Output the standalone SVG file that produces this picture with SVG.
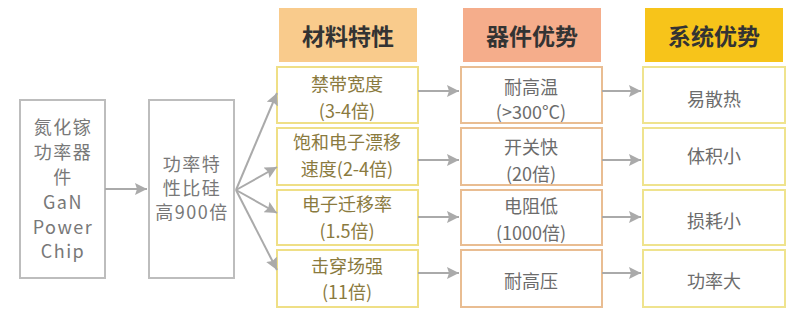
<svg xmlns="http://www.w3.org/2000/svg" width="800" height="319" viewBox="0 0 800 319">
<defs>
<marker id="ah" markerUnits="userSpaceOnUse" markerWidth="14" markerHeight="14" refX="12" refY="6" orient="auto">
<path d="M0,0 L12,6 L0,12 L2,6 Z" fill="#aaaaaa"/>
</marker>
<style>
text{font-family:"Noto Sans CJK SC","Noto Sans",sans-serif;text-anchor:middle;font-size:18px}
.g{fill:none;stroke:#bdbdbd;stroke-width:2}
.y{fill:#fff;stroke:#efdf86;stroke-width:2}
.o{fill:#fff;stroke:#e9bd92;stroke-width:2}
.s{fill:#fff;stroke:#efe38e;stroke-width:2}
.tg{fill:#787878;letter-spacing:1.5px}
.ty{fill:#8a7a3e}
.to{fill:#6c6c6c}
.h{fill:#333;font-size:23px;font-weight:bold}
.c line{stroke:#aaaaaa;stroke-width:2;marker-end:url(#ah)}
</style>
</defs>
<rect width="800" height="319" fill="#fff"/>

<g id="gan">
<rect class="g" x="20" y="100" width="85" height="178"/>
<text class="tg" x="63" y="134">氮化镓</text>
<text class="tg" x="63" y="159">功率器</text>
<text class="tg" x="63" y="184">件</text>
<text class="tg" x="63" y="209">GaN</text>
<text class="tg" x="63" y="234">Power</text>
<text class="tg" x="63" y="258">Chip</text>
</g>
<g id="power">
<rect class="g" x="149" y="100" width="85" height="178"/>
<text class="tg" x="192" y="171">功率特</text>
<text class="tg" x="192" y="195">性比硅</text>
<text class="tg" x="192" y="219">高900倍</text>
</g>

<g id="h1"><rect x="279" y="8" width="138" height="54" fill="#f9cb8c"/><text class="h" x="348" y="45">材料特性</text></g>
<g id="h2"><rect x="463" y="8" width="138" height="54" fill="#f5ad8b"/><text class="h" x="532" y="45">器件优势</text></g>
<g id="h3"><rect x="645" y="8" width="138" height="54" fill="#f7c41a"/><text class="h" x="714" y="45">系统优势</text></g>

<g id="m1"><rect class="y" x="277" y="67" width="141" height="56"/><text class="ty" x="347" y="91">禁带宽度</text><text class="ty" x="347" y="118">(3-4倍)</text></g>
<g id="m2"><rect class="y" x="277" y="128" width="141" height="57"/><text class="ty" x="347" y="149">饱和电子漂移</text><text class="ty" x="347" y="176">速度(2-4倍)</text></g>
<g id="m3"><rect class="y" x="277" y="190" width="141" height="55"/><text class="ty" x="347" y="211">电子迁移率</text><text class="ty" x="347" y="238">(1.5倍)</text></g>
<g id="m4"><rect class="y" x="277" y="250" width="141" height="57"/><text class="ty" x="347" y="273">击穿场强</text><text class="ty" x="347" y="299">(11倍)</text></g>

<g id="d1"><rect class="o" x="461" y="67" width="141" height="56"/><text class="to" x="531" y="94">耐高温</text><text class="to" x="531" y="119">(&gt;300°C)</text></g>
<g id="d2"><rect class="o" x="461" y="128" width="141" height="57"/><text class="to" x="531" y="154">开关快</text><text class="to" x="531" y="181">(20倍)</text></g>
<g id="d3"><rect class="o" x="461" y="190" width="141" height="55"/><text class="to" x="531" y="213">电阻低</text><text class="to" x="531" y="240">(1000倍)</text></g>
<g id="d4"><rect class="o" x="461" y="250" width="141" height="57"/><text class="to" x="531" y="288">耐高压</text></g>

<g id="s1"><rect class="s" x="643" y="67" width="142" height="56"/><text class="to" x="714" y="106">易散热</text></g>
<g id="s2"><rect class="s" x="643" y="128" width="142" height="57"/><text class="to" x="714" y="163">体积小</text></g>
<g id="s3"><rect class="s" x="643" y="190" width="142" height="55"/><text class="to" x="714" y="228">损耗小</text></g>
<g id="s4"><rect class="s" x="643" y="250" width="142" height="57"/><text class="to" x="714" y="288">功率大</text></g>

<g id="connectors" class="c">
<line x1="105" y1="189" x2="147" y2="189"/>
<line x1="236" y1="190" x2="277" y2="93"/>
<line x1="236" y1="190" x2="277" y2="167"/>
<line x1="236" y1="190" x2="277" y2="213"/>
<line x1="236" y1="190" x2="277" y2="270"/>
<line x1="418" y1="91" x2="459" y2="91"/>
<line x1="418" y1="160" x2="459" y2="160"/>
<line x1="418" y1="217" x2="459" y2="217"/>
<line x1="418" y1="273" x2="459" y2="273"/>
<line x1="602" y1="91" x2="641" y2="91"/>
<line x1="602" y1="160" x2="641" y2="160"/>
<line x1="602" y1="217" x2="641" y2="217"/>
<line x1="602" y1="273" x2="641" y2="273"/>
</g>
</svg>
